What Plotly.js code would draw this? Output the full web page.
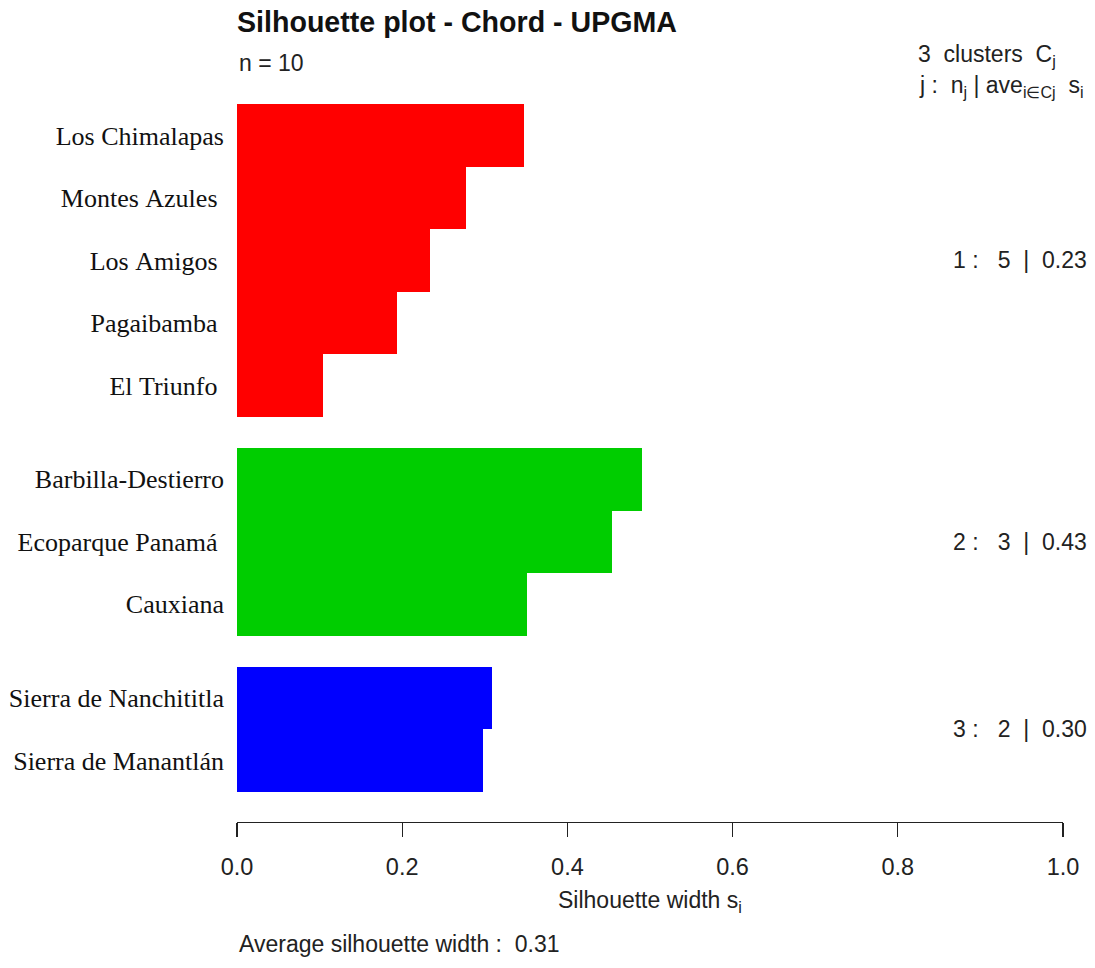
<!DOCTYPE html>
<html>
<head>
<meta charset="utf-8">
<script src="https://cdn.plot.ly/plotly-3.0.1.min.js"></script>
<style>
  html, body { margin: 0; padding: 0; background: #ffffff; }
  #chart { width: 1095px; height: 968px; }
</style>
</head>
<body>
<div id="chart"></div>
<script>
// Silhouette widths per site, listed top to bottom within each cluster
const siteNames = [
  "Los Chimalapas", "Montes Azules ", "Los Amigos ", "Pagaibamba ", "El Triunfo ",
  "Barbilla-Destierro", "Ecoparque Panamá ", "Cauxiana",
  "Sierra de Nanchititla", "Sierra de Manantlán"
];
const silWidth = [0.347, 0.277, 0.234, 0.194, 0.104, 0.490, 0.454, 0.351, 0.309, 0.298];
const clusterOf = [1, 1, 1, 1, 1, 2, 2, 2, 3, 3];
const clusterIds = [1, 2, 3];
const clusterColors = { 1: "#FF0000", 2: "#00CD00", 3: "#0000FF" };
const xTicks = [0, 0.2, 0.4, 0.6, 0.8, 1.0];

// Bar positions: unit-height bars stacked bottom-up, half a bar between clusters
const n = siteNames.length;
const yPos = new Array(n);
let cursor = 0;
for (let i = n - 1; i >= 0; i--) {
  if (i < n - 1 && clusterOf[i] !== clusterOf[i + 1]) cursor += 0.5;
  yPos[i] = cursor + 0.5;
  cursor += 1;
}
const yTop = cursor;

// keep runs of spaces visible in SVG text
const keepSpaces = s => s.replace(/ /g, "\u00a0");
const sp = k => "\u00a0".repeat(k);
const sans = "Liberation Sans, Arial, sans-serif";
const textFont = { family: sans, size: 23, color: "#222" };

const bars = {
  type: "bar",
  orientation: "h",
  x: silWidth,
  y: yPos,
  width: 1,
  marker: { color: clusterOf.map(c => clusterColors[c]), line: { width: 0 } },
  hoverinfo: "skip",
  showlegend: false
};

// Per-cluster summaries: size and average width, placed beside each block
const clusterNotes = clusterIds.map(c => {
  const idx = clusterOf.map((v, i) => v === c ? i : -1).filter(i => i >= 0);
  const avg = idx.reduce((s, i) => s + silWidth[i], 0) / idx.length;
  const yMid = idx.reduce((s, i) => s + yPos[i], 0) / idx.length;
  return {
    xref: "paper", yref: "y", x: 1.031, y: yMid,
    xanchor: "right", yanchor: "middle", showarrow: false,
    text: c + sp(1) + ":" + sp(3) + idx.length + sp(2) + "|" + sp(2) + avg.toFixed(2),
    font: textFont
  };
});

const overall = silWidth.reduce((s, v) => s + v, 0) / n;

const annotations = clusterNotes.concat([
  { xref: "paper", yref: "paper", x: 0, y: 1.017, xanchor: "left", yanchor: "middle",
    showarrow: false, text: "n = " + n, font: textFont },
  { xref: "paper", yref: "paper", x: 0.994, y: 1.028, xanchor: "right", yanchor: "middle",
    showarrow: false, text: clusterIds.length + sp(2) + "clusters" + sp(2) + "C<sub>j</sub>",
    font: textFont },
  { xref: "paper", yref: "paper", x: 1.028, y: 0.986, xanchor: "right", yanchor: "middle",
    showarrow: false,
    text: "j" + sp(1) + ":" + sp(2) + "n<sub>j</sub>" + sp(1) + "|" + sp(1) + "ave<sub>i∈Cj</sub>" + sp(2) + "s<sub>i</sub>",
    font: textFont },
  { xref: "paper", yref: "paper", x: 0.5, y: -0.106, xanchor: "center", yanchor: "middle",
    showarrow: false, text: "Silhouette width s<sub>i</sub>", font: textFont },
  { xref: "paper", yref: "paper", x: 0, y: -0.163, xanchor: "left", yanchor: "middle",
    showarrow: false, text: "Average silhouette width :" + sp(2) + overall.toFixed(2), font: textFont }
]);

const layout = {
  width: 1095,
  height: 968,
  paper_bgcolor: "#ffffff",
  plot_bgcolor: "#ffffff",
  margin: { l: 237, r: 32, t: 76, b: 146 },
  bargap: 0,
  title: {
    text: "<b>Silhouette plot - Chord - UPGMA</b>",
    xref: "paper", x: 0, xanchor: "left",
    yref: "container", y: 0.977, yanchor: "middle",
    font: { family: sans, size: 28.6, color: "#111" }
  },
  xaxis: {
    range: [0, 1],
    tickvals: xTicks,
    ticktext: xTicks.map(v => v.toFixed(1)),
    ticks: "outside",
    ticklen: 14,
    tickwidth: 1.3,
    tickcolor: "#222",
    ticklabelstandoff: 9,
    showline: true,
    linecolor: "#222",
    linewidth: 1.3,
    showgrid: false,
    zeroline: false,
    tickfont: { family: sans, size: 23.5, color: "#222" },
    fixedrange: true
  },
  yaxis: {
    range: [-0.48, yTop + 0.45],
    tickvals: yPos,
    ticktext: siteNames.map(keepSpaces),
    ticks: "",
    showline: false,
    showgrid: false,
    zeroline: false,
    ticklabelstandoff: 12,
    tickfont: { family: "Liberation Serif, 'Times New Roman', serif", size: 26, color: "#111" },
    fixedrange: true
  },
  annotations: annotations,
  showlegend: false
};

Plotly.newPlot("chart", [bars], layout, { displayModeBar: false, staticPlot: true });
</script>
</body>
</html>
